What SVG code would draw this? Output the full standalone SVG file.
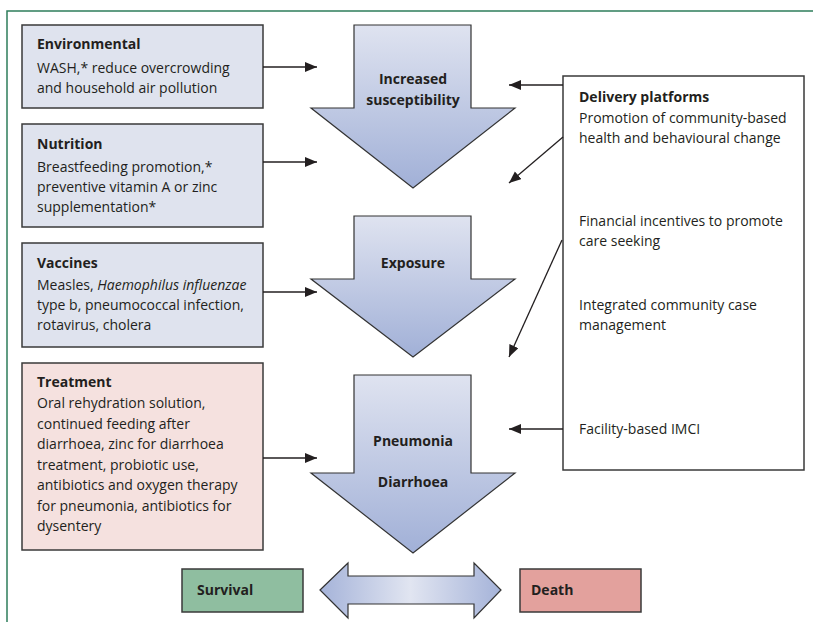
<svg xmlns="http://www.w3.org/2000/svg" width="813" height="622" viewBox="0 0 813 622">
<style>
text{font-family:"Open Sans","Liberation Sans",sans-serif;font-size:14px;fill:#231f20}
.b{font-weight:bold}
.c{text-anchor:middle}
.box{stroke:#3a3a3a;stroke-width:1.5}
.blue{fill:#dfe3ee}
.pink{fill:#f5e1df}
.arr{stroke:#333;stroke-width:1.2}
.con{stroke:#231f20;stroke-width:1.3;fill:none;marker-end:url(#ah)}
</style>
<defs>
<linearGradient id="gv" x1="0" y1="0" x2="0" y2="1">
<stop offset="0" stop-color="#dfe3f0"/>
<stop offset="1" stop-color="#a1b0d7"/>
</linearGradient>
<linearGradient id="gh" x1="0" y1="0" x2="1" y2="0">
<stop offset="0" stop-color="#a5b3d9"/>
<stop offset="0.5" stop-color="#e1e5f1"/>
<stop offset="1" stop-color="#a5b3d9"/>
</linearGradient>
<marker id="ah" markerUnits="userSpaceOnUse" markerWidth="14" markerHeight="12" refX="12" refY="5" orient="auto">
<path d="M0,0 L12,5 L0,10 z" fill="#231f20"/>
</marker>
</defs>
<g id="frame">
<path d="M7,622 V11 H813" fill="none" stroke="#2e7d5b" stroke-width="1.5"/>
</g>
<g id="environmental">
<rect class="box blue" x="22" y="25" width="241" height="83"/>
<text class="b" x="37" y="49">Environmental</text>
<text x="37" y="73">WASH,* reduce overcrowding</text>
<text x="37" y="93">and household air pollution</text>
</g>
<g id="nutrition">
<rect class="box blue" x="22" y="124" width="241" height="103"/>
<text class="b" x="37" y="149">Nutrition</text>
<text x="37" y="172">Breastfeeding promotion,*</text>
<text x="37" y="192">preventive vitamin A or zinc</text>
<text x="37" y="212">supplementation*</text>
</g>
<g id="vaccines">
<rect class="box blue" x="22" y="243" width="241" height="104"/>
<text class="b" x="37" y="268">Vaccines</text>
<text x="37" y="290">Measles, <tspan font-style="italic">Haemophilus influenzae</tspan></text>
<text x="37" y="310">type b, pneumococcal infection,</text>
<text x="37" y="330">rotavirus, cholera</text>
</g>
<g id="treatment">
<rect class="box pink" x="22" y="363" width="241" height="187"/>
<text class="b" x="37" y="387">Treatment</text>
<text x="37" y="408">Oral rehydration solution,</text>
<text x="37" y="428.5">continued feeding after</text>
<text x="37" y="449">diarrhoea, zinc for diarrhoea</text>
<text x="37" y="469.5">treatment, probiotic use,</text>
<text x="37" y="490">antibiotics and oxygen therapy</text>
<text x="37" y="510.5">for pneumonia, antibiotics for</text>
<text x="37" y="531">dysentery</text>
</g>
<g id="susceptibility">
<path class="arr" fill="url(#gv)" d="M354,25 H471 V108 H515 L413,188 L311,108 H354 Z"/>
<text class="b c" x="413" y="84">Increased</text>
<text class="b c" x="413" y="105">susceptibility</text>
</g>
<g id="exposure">
<path class="arr" fill="url(#gv)" d="M354,216 H471 V279 H515 L413,357 L311,279 H354 Z"/>
<text class="b c" x="413" y="268">Exposure</text>
</g>
<g id="disease">
<path class="arr" fill="url(#gv)" d="M354,375 H471 V473 H515 L413,553 L311,473 H354 Z"/>
<text class="b c" x="413" y="446">Pneumonia</text>
<text class="b c" x="413" y="487">Diarrhoea</text>
</g>
<g id="delivery">
<rect class="box" fill="#fff" x="563" y="76" width="241" height="394"/>
<text class="b" x="579" y="102">Delivery platforms</text>
<text x="579" y="123">Promotion of community-based</text>
<text x="579" y="143">health and behavioural change</text>
<text x="579" y="226">Financial incentives to promote</text>
<text x="579" y="246">care seeking</text>
<text x="579" y="310">Integrated community case</text>
<text x="579" y="330">management</text>
<text x="579" y="434">Facility-based IMCI</text>
</g>
<g id="survival">
<rect class="box" fill="#8fbea0" x="182" y="569" width="121" height="43"/>
<text class="b" x="197" y="595">Survival</text>
</g>
<g id="outcome">
<path class="arr" fill="url(#gh)" d="M320,590 L348,563 V576 H474 V563 L501,590 L474,618 V604 H348 V618 Z"/>
</g>
<g id="death">
<rect class="box" fill="#e3a19d" x="520" y="569" width="121" height="43"/>
<text class="b" x="531" y="595">Death</text>
</g>
<g id="connectors">
<path class="con" d="M263,67 H317"/>
<path class="con" d="M263,162 H317"/>
<path class="con" d="M263,292 H317"/>
<path class="con" d="M263,458 H317"/>
<path class="con" d="M563,85 H509"/>
<path class="con" d="M563,137 L509,183"/>
<path class="con" d="M562,240 L509,357"/>
<path class="con" d="M563,429 H509"/>
</g>
</svg>
